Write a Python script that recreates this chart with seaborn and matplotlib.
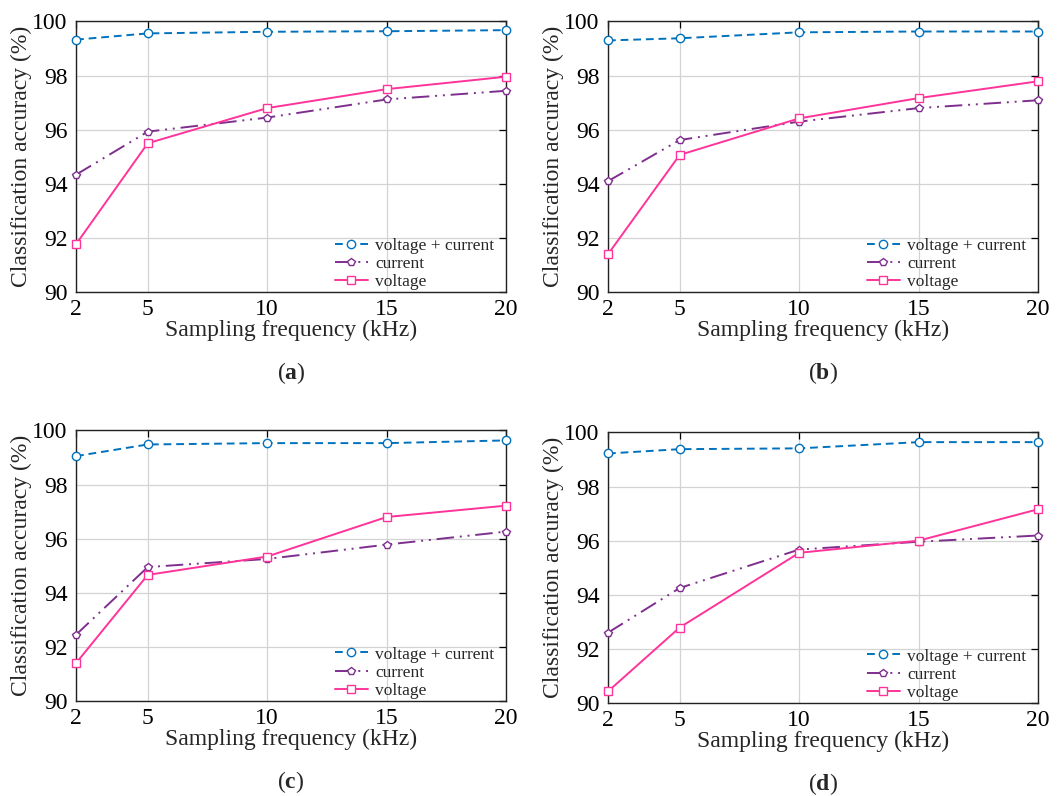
import numpy as np
import pandas as pd
import matplotlib
matplotlib.use("Agg")
import matplotlib.pyplot as plt
import seaborn as sns

freqs = [2, 5, 10, 15, 20]
x_ticks = [2, 5, 10, 15, 20]
y_ticks = [90, 92, 94, 96, 98, 100]
series_names = ["voltage + current", "current", "voltage"]
panel_labels = ["a", "b", "c", "d"]

vc_a = [99.33, 99.56, 99.62, 99.64, 99.68]
cur_a = [94.34, 95.93, 96.45, 97.12, 97.44]
vol_a = [91.77, 95.50, 96.80, 97.50, 97.96]

vc_b = [99.30, 99.38, 99.60, 99.63, 99.63]
cur_b = [94.10, 95.62, 96.30, 96.80, 97.09]
vol_b = [91.40, 95.07, 96.42, 97.17, 97.79]

vc_c = [99.05, 99.48, 99.53, 99.53, 99.63]
cur_c = [92.45, 94.95, 95.25, 95.78, 96.26]
vol_c = [91.40, 94.66, 95.34, 96.80, 97.22]

vc_d = [99.22, 99.38, 99.41, 99.64, 99.64]
cur_d = [92.60, 94.25, 95.67, 95.96, 96.19]
vol_d = [90.43, 92.79, 95.55, 96.00, 97.16]

panels = [(vc_a, cur_a, vol_a), (vc_b, cur_b, vol_b),
          (vc_c, cur_c, vol_c), (vc_d, cur_d, vol_d)]

sns.set_theme(style="white")
plt.rcParams["font.family"] = ["Liberation Serif", "DejaVu Serif"]
plt.rcParams["mathtext.fontset"] = "custom"
plt.rcParams["mathtext.bf"] = "Liberation Serif:bold"
plt.rcParams["mathtext.rm"] = "Liberation Serif"

colors = ["#0072BD", "#7E2F8E", "#FF3399"]
markers = ["o", "p", "s"]
styles = [(0, (4, 2.5)), (0, (9, 3, 1, 3, 1, 3)), "-"]

fig = plt.figure(figsize=(10.62, 7.96), dpi=100)
positions = [
    [0.0716, 0.633, 0.405, 0.340],
    [0.5725, 0.633, 0.405, 0.340],
    [0.0716, 0.1193, 0.405, 0.340],
    [0.5725, 0.1168, 0.405, 0.340],
]

for pos, data, lab in zip(positions, panels, panel_labels):
    ax = fig.add_axes(pos)
    for vals, name, c, m, ls in zip(data, series_names, colors, markers, styles):
        df = pd.DataFrame({"freq": freqs, "acc": vals})
        sns.lineplot(data=df, x="freq", y="acc", ax=ax, color=c, marker=m,
                     linestyle=ls, linewidth=1.4, markersize=6,
                     markerfacecolor="white", markeredgecolor=c,
                     markeredgewidth=1.0, label=name, clip_on=False, zorder=3)
    ax.set_xlim(2, 20)
    ax.set_ylim(90, 100)
    ax.set_xticks(x_ticks)
    ax.set_yticks(y_ticks)
    ax.set_xticklabels([str(t) for t in x_ticks])
    ax.set_yticklabels([str(t) for t in y_ticks])
    ax.grid(True, color="#d3d3d3", linewidth=0.9)
    ax.set_axisbelow(True)
    ax.tick_params(direction="in", length=5, width=0.9, top=True, right=True,
                   labelsize=17, colors="black")
    ax.tick_params(axis="x", pad=5)
    ax.tick_params(axis="y", pad=6)
    for s in ax.spines.values():
        s.set_color("#222222")
        s.set_linewidth(1.0)
        s.set_visible(True)
    ax.set_xlabel("Sampling frequency (kHz)", fontsize=17, labelpad=0)
    ax.set_ylabel("Classification accuracy (%)", fontsize=17, labelpad=0)
    leg = ax.legend(loc="lower right", bbox_to_anchor=(0.986, -0.015),
                    frameon=False, fontsize=12.5,
                    handlelength=1.9, handletextpad=0.4, labelspacing=0.12,
                    borderaxespad=0.15, borderpad=0.2)
    ax.text(0.5, -0.30, r"($\mathbf{" + lab + r"}$)", transform=ax.transAxes,
            ha="center", va="center", fontsize=17)

fig.savefig("out.png", dpi=100)
